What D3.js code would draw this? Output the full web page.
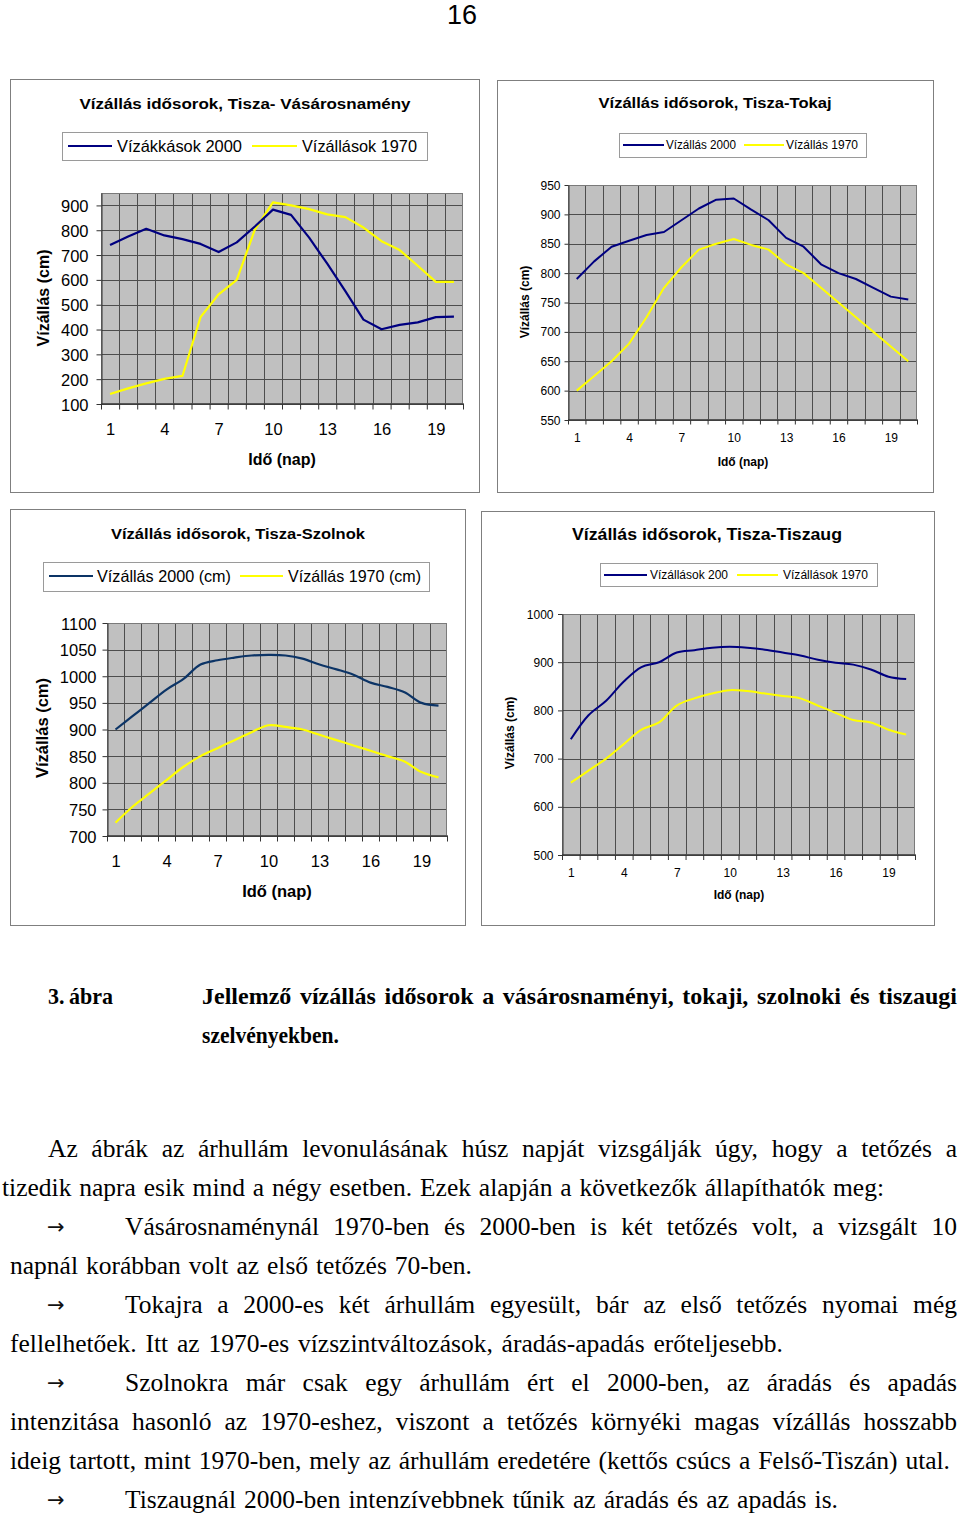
<!DOCTYPE html>
<html><head><meta charset="utf-8">
<script src="https://cdn.jsdelivr.net/npm/d3@7"></script>
<style>body{margin:0;background:#fff} svg{display:block}</style>
</head><body>
<svg id="page" width="960" height="1515"></svg>
<script>
// ---------- DATA ----------
const days = d3.range(1, 21);
const xTickLabels = [1, 4, 7, 10, 13, 16, 19];

const vasarosnameny2000 = [741,775,806,779,764,745,712,751,815,883,862,770,665,555,440,401,419,429,450,452];
const vasarosnameny1970 = [140,163,183,201,213,450,542,600,802,912,900,885,864,853,811,756,720,657,592,592];
const vasarosnamenyTicks = [100,200,300,400,500,600,700,800,900];

const tokaj2000 = [790,820,845,855,865,870,890,910,925,927,908,890,860,845,815,800,790,775,760,755];
const tokaj1970 = [600,625,650,680,725,775,810,840,850,858,848,840,815,800,775,750,725,700,675,650];
const tokajTicks = [550,600,650,700,750,800,850,900,950];

const szolnok2000 = [900,925,950,975,995,1022,1030,1035,1039,1040,1039,1033,1022,1013,1003,988,980,970,950,945];
const szolnok1970 = [725,755,780,805,830,850,865,880,895,908,905,900,890,880,870,860,850,840,820,810];
const szolnokTicks = [700,750,800,850,900,950,1000,1050,1100];

const tiszaug2000 = [740,790,820,860,890,900,920,925,930,932,930,926,920,914,905,899,895,885,870,865];
const tiszaug1970 = [650,675,700,730,760,775,810,825,835,842,840,835,830,825,810,795,780,775,760,750];
const tiszaugTicks = [500,600,700,800,900,1000];

const chartTitles = ['Vízállás idősorok, Tisza- Vásárosnamény','Vízállás idősorok, Tisza-Tokaj','Vízállás idősorok, Tisza-Szolnok','Vízállás idősorok, Tisza-Tiszaug'];
const legendLabels = [['Vízákkások 2000','Vízállások 1970'],['Vízállás 2000','Vízállás 1970'],['Vízállás 2000 (cm)','Vízállás 1970 (cm)'],['Vízállások 200','Vízállások 1970']];
const yAxisTitle = 'Vízállás (cm)';
const xAxisTitle = 'Idő (nap)';

const captionLabel = '3. ábra';
const captionLines = ['Jellemző vízállás idősorok a vásárosnaményi, tokaji, szolnoki és tiszaugi','szelvényekben.'];
const bodyLines = [
 'Az ábrák az árhullám levonulásának húsz napját vizsgálják úgy, hogy a tetőzés a',
 'tizedik napra esik mind a négy esetben. Ezek alapján a következők állapíthatók meg:',
 'Vásárosnaménynál 1970-ben és 2000-ben is két tetőzés volt, a vizsgált 10',
 'napnál korábban volt az első tetőzés 70-ben.',
 'Tokajra a 2000-es két árhullám egyesült, bár az első tetőzés nyomai még',
 'fellelhetőek. Itt az 1970-es vízszintváltozások, áradás-apadás erőteljesebb.',
 'Szolnokra már csak egy árhullám ért el 2000-ben, az áradás és apadás',
 'intenzitása hasonló az 1970-eshez, viszont a tetőzés környéki magas vízállás hosszabb',
 'ideig tartott, mint 1970-ben, mely az árhullám eredetére (kettős csúcs a Felső-Tiszán) utal.',
 'Tiszaugnál 2000-ben intenzívebbnek tűnik az áradás és az apadás is.'
];
const arrowLines = [2, 4, 6, 9];

// ---------- LAYOUT ----------
const sans = '"Liberation Sans", Arial, sans-serif';
const serif = '"Liberation Serif", "Times New Roman", serif';
const svg = d3.select('#page');

const charts = [
 {s2000: vasarosnameny2000, s1970: vasarosnameny1970, ticks: vasarosnamenyTicks, ydom:[100,950], smooth:false, blue:'#000080', lw:2.2,
  box:[10,79,479,492], plot:[101,193,463,404], title:[245,103,15.5,331],
  legBox:[62,132,427,160], legY:146, s1:[68,112], t1:117, s2:[252,297], t2:302, legW:[125,115], legSize:16.5,
  tickFont:16.5, tickLen:5, yLabelRight:88, xLabelY:429, yTitle:[43,298], xTitle:[282,459], axTitleSize:16},
 {s2000: tokaj2000, s1970: tokaj1970, ticks: tokajTicks, ydom:[550,950], smooth:false, blue:'#000080', lw:2,
  box:[497,80,933,492], plot:[568,185,917,420], title:[715,103,14.5,233],
  legBox:[619,133,866,157], legY:145, s1:[623,664], t1:666, s2:[744,784], t2:786, legW:[70,72], legSize:12,
  tickFont:12, tickLen:4, yLabelRight:560, xLabelY:438, yTitle:[525,302], xTitle:[743,462], axTitleSize:12},
 {s2000: szolnok2000, s1970: szolnok1970, ticks: szolnokTicks, ydom:[700,1100], smooth:true, blue:'#0c3466', lw:2.2,
  box:[10,509,465,925], plot:[107,623,447,836], title:[238,533,15.5,254],
  legBox:[43,562,429,591], legY:576, s1:[49,93], t1:97, s2:[240,283], t2:288, legW:[134,133], legSize:16.5,
  tickFont:16.5, tickLen:5, yLabelRight:96, xLabelY:861, yTitle:[42,728], xTitle:[277,891], axTitleSize:16.5},
 {s2000: tiszaug2000, s1970: tiszaug1970, ticks: tiszaugTicks, ydom:[500,1000], smooth:true, blue:'#000080', lw:2,
  box:[481,511,934,925], plot:[562,614,915,855], title:[707,534,16,270],
  legBox:[600,563,877,586], legY:575, s1:[604,647], t1:650, s2:[737,778], t2:783, legW:[78,85], legSize:12,
  tickFont:12, tickLen:4.5, yLabelRight:553, xLabelY:873, yTitle:[510,733], xTitle:[739,895], axTitleSize:12}
];

// page number
svg.append('text').attr('x',462).attr('y',24).attr('text-anchor','middle')
  .attr('font-family',sans).attr('font-size',27).text('16');

charts.forEach((c, ci) => {
  const g = svg.append('g');
  g.append('rect').attr('x',c.box[0]+0.5).attr('y',c.box[1]+0.5).attr('width',c.box[2]-c.box[0]).attr('height',c.box[3]-c.box[1])
    .attr('fill','#fff').attr('stroke','#7f7f7f').attr('stroke-width',1);
  g.append('text').attr('x',c.title[0]).attr('y',c.title[1]).attr('text-anchor','middle').attr('dominant-baseline','central')
    .attr('font-family',sans).attr('font-weight','bold').attr('font-size',c.title[2])
    .attr('textLength',c.title[3]).attr('lengthAdjust','spacingAndGlyphs').text(chartTitles[ci]);
  g.append('rect').attr('x',c.legBox[0]+0.5).attr('y',c.legBox[1]+0.5).attr('width',c.legBox[2]-c.legBox[0]).attr('height',c.legBox[3]-c.legBox[1])
    .attr('fill','#fff').attr('stroke','#9a9a9a');
  [[c.s1,c.t1,c.blue,legendLabels[ci][0],c.legW[0]],[c.s2,c.t2,'#ffff00',legendLabels[ci][1],c.legW[1]]].forEach(([s,t,col,lab,w]) => {
    g.append('line').attr('x1',s[0]).attr('x2',s[1]).attr('y1',c.legY).attr('y2',c.legY).attr('stroke',col).attr('stroke-width',c.lw);
    g.append('text').attr('x',t).attr('y',c.legY).attr('dominant-baseline','central').attr('font-family',sans)
      .attr('font-size',c.legSize).attr('textLength',w).attr('lengthAdjust','spacingAndGlyphs').text(lab);
  });
  const [px0,py0,px1,py1] = c.plot;
  const x = d3.scaleLinear().domain([0.5,20.5]).range([px0,px1]);
  const y = d3.scaleLinear().domain(c.ydom).range([py1,py0]);
  g.append('rect').attr('x',px0).attr('y',py0).attr('width',px1-px0).attr('height',py1-py0).attr('fill','#c0c0c0');
  const bounds = d3.range(0.5, 21, 1);
  g.append('g').selectAll('line').data(bounds.slice(1,-1)).join('line')
    .attr('x1',d=>Math.round(x(d))+0.5).attr('x2',d=>Math.round(x(d))+0.5).attr('y1',py0).attr('y2',py1)
    .attr('stroke','#4d4d4d').attr('stroke-width',1);
  g.append('g').selectAll('line').data(c.ticks).join('line')
    .attr('y1',d=>Math.round(y(d))+0.5).attr('y2',d=>Math.round(y(d))+0.5).attr('x1',px0).attr('x2',px1)
    .attr('stroke','#4d4d4d').attr('stroke-width',1);
  g.append('rect').attr('x',px0+0.5).attr('y',py0+0.5).attr('width',px1-px0-1).attr('height',py1-py0-1)
    .attr('fill','none').attr('stroke','#7a7a7a');
  const ya = g.append('g').attr('transform',`translate(${px0+0.5},0)`)
    .call(d3.axisLeft(y).tickValues(c.ticks).tickSize(c.tickLen).tickSizeOuter(0).tickPadding(px0 - c.yLabelRight - c.tickLen).tickFormat(d3.format('d')));
  ya.select('.domain').attr('stroke','#333');
  ya.selectAll('.tick line').attr('stroke','#333');
  ya.selectAll('text').attr('dy',null).attr('dominant-baseline','central').attr('font-family',sans).attr('font-size',c.tickFont).attr('fill','#000');
  const xa = g.append('g').attr('transform',`translate(0,${py1-0.5})`)
    .call(d3.axisBottom(x).tickValues(bounds).tickSize(c.tickLen+1).tickSizeOuter(0).tickFormat(''));
  xa.select('.domain').attr('stroke','#333');
  xa.selectAll('.tick line').attr('stroke','#333');
  const xl = g.append('g').attr('transform',`translate(0,${py1})`)
    .call(d3.axisBottom(x).tickValues(xTickLabels).tickSize(0).tickFormat(d3.format('d')));
  xl.select('.domain').remove();
  xl.selectAll('text').attr('y',c.xLabelY-py1).attr('dy',null).attr('dominant-baseline','central')
    .attr('font-family',sans).attr('font-size',c.tickFont).attr('fill','#000');
  g.append('text').attr('transform',`translate(${c.yTitle[0]},${c.yTitle[1]}) rotate(-90)`).attr('text-anchor','middle')
    .attr('dominant-baseline','central').attr('font-family',sans).attr('font-weight','bold').attr('font-size',c.axTitleSize).text(yAxisTitle);
  g.append('text').attr('x',c.xTitle[0]).attr('y',c.xTitle[1]).attr('text-anchor','middle').attr('dominant-baseline','central')
    .attr('font-family',sans).attr('font-weight','bold').attr('font-size',c.axTitleSize).text(xAxisTitle);
  const line = d3.line().x((d,i)=>x(days[i])).y(d=>y(d)).curve(c.smooth ? d3.curveCatmullRom.alpha(0.5) : d3.curveLinear);
  g.append('path').datum(c.s1970).attr('d',line).attr('fill','none').attr('stroke','#ffff00').attr('stroke-width',c.lw).attr('stroke-linejoin','round');
  g.append('path').datum(c.s2000).attr('d',line).attr('fill','none').attr('stroke',c.blue).attr('stroke-width',c.lw).attr('stroke-linejoin','round');
});

// ---------- TEXT ----------
function placeLine(str, x0, x1, y, size, weight) {
  const g = svg.append('g');
  const words = str.split(' ');
  const ts = words.map(w => g.append('text').attr('y',y).attr('font-family',serif).attr('font-size',size)
      .attr('font-weight',weight).text(w));
  const ws = ts.map(t => t.node().getComputedTextLength());
  const total = d3.sum(ws);
  let gap = words.length > 1 ? (x1 - x0 - total) / (words.length - 1) : 0;
  let sc = 1;
  const minGap = size * 0.2;
  if (words.length > 1 && gap < minGap) { gap = minGap; sc = (x1 - x0) / (total + gap * (words.length - 1)); }
  if (words.length === 1) sc = (x1 - x0) / total;
  let cx = 0;
  ts.forEach((t, i) => { t.attr('x', cx); cx += ws[i] + gap; });
  g.attr('transform', `translate(${x0},0) scale(${sc},1)`);
}

const bodySize = 25.5;
const capSize = 24;
const capBase = [1004, 1043];
placeLine(captionLabel, 48, 113, capBase[0], capSize, 'bold');
placeLine(captionLines[0], 202, 957, capBase[0], capSize, 'bold');
placeLine(captionLines[1], 202, 339, capBase[1], capSize, 'bold');

const bodyLayout = [[48,957],[2,884],[125,957],[10,472],[125,957],[10,783],[125,957],[10,957],[10,950],[125,838]];
bodyLines.forEach((s, i) => {
  const base = 1157 + i * 39;
  placeLine(s, bodyLayout[i][0], bodyLayout[i][1], base, bodySize, 'normal');
  if (arrowLines.includes(i)) {
    svg.append('text').attr('x',47).attr('y',base-1).attr('font-family','"DejaVu Sans", sans-serif').attr('font-size',21)
      .attr('fill','#111').text('→');
  }
});
</script>
</body></html>
